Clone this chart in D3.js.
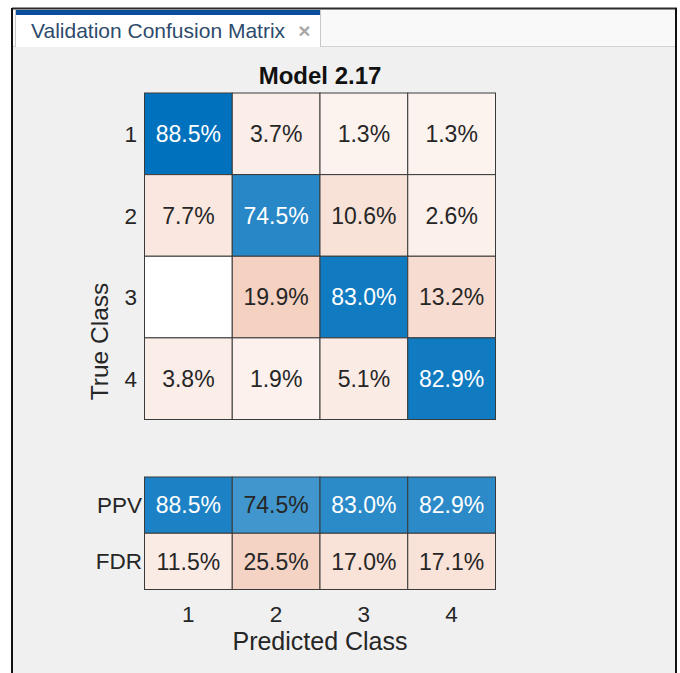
<!DOCTYPE html>
<html>
<head>
<meta charset="utf-8">
<script src="https://cdn.jsdelivr.net/npm/d3@7"></script>
<style>
  html, body { margin: 0; padding: 0; background: #ffffff; }
  svg { display: block; }
  text { font-family: "Liberation Sans", Arial, Helvetica, sans-serif; }
</style>
</head>
<body>
<svg id="chart" width="680" height="673"></svg>
<script>
// ---- data ----
const tabTitle = "Validation Confusion Matrix";
const chartTitle = "Model 2.17";
const classes = ["1", "2", "3", "4"];
const summaryRows = ["PPV", "FDR"];
const row1 = [88.5, 3.7, 1.3, 1.3];
const row2 = [7.7, 74.5, 10.6, 2.6];
const row3 = [0, 19.9, 83.0, 13.2];
const row4 = [3.8, 1.9, 5.1, 82.9];
const ppv = [88.5, 74.5, 83.0, 82.9];
const fdr = [11.5, 25.5, 17.0, 17.1];
const xLabel = "Predicted Class";
const yLabel = "True Class";

const matrix = [row1, row2, row3, row4];
const summary = [ppv, fdr];

const svg = d3.select("#chart");

// ---- window frame & tab ----
svg.append("rect").attr("x", 13).attr("y", 9).attr("width", 662).attr("height", 664).attr("fill", "#f0f0f0");
svg.append("rect").attr("x", 13).attr("y", 9).attr("width", 662).attr("height", 37).attr("fill", "#f9f9f9");
svg.append("line").attr("x1", 13).attr("x2", 675).attr("y1", 46.5).attr("y2", 46.5).attr("stroke", "#d4d4d4");
// tab
svg.append("rect").attr("x", 16).attr("y", 10).attr("width", 304).attr("height", 37).attr("fill", "#ffffff");
svg.append("line").attr("x1", 320.5).attr("x2", 320.5).attr("y1", 10).attr("y2", 47).attr("stroke", "#c8c8c8");
svg.append("line").attr("x1", 15.5).attr("x2", 15.5).attr("y1", 10).attr("y2", 47).attr("stroke", "#c8c8c8");
svg.append("rect").attr("x", 16).attr("y", 10).attr("width", 304).attr("height", 5).attr("fill", "#0b4e9d");
svg.append("text").attr("x", 31).attr("y", 38).attr("font-size", 21).attr("fill", "#2e4b6b").text(tabTitle);
svg.append("text").attr("x", 304.5).attr("y", 38).attr("text-anchor", "middle").attr("font-size", 21).attr("font-weight", "bold").attr("fill", "#a8a8a8").text("\u00d7");
// frame lines
svg.append("line").attr("x1", 12).attr("x2", 677).attr("y1", 8.5).attr("y2", 8.5).attr("stroke", "#2b2b2b").attr("stroke-width", 2);
svg.append("line").attr("x1", 12).attr("x2", 12).attr("y1", 8).attr("y2", 673).attr("stroke", "#111").attr("stroke-width", 2);
svg.append("line").attr("x1", 676).attr("x2", 676).attr("y1", 8).attr("y2", 673).attr("stroke", "#111").attr("stroke-width", 2);

// ---- scales ----
const x = d3.scaleBand().domain(classes).range([144.5, 495.5]);
const y = d3.scaleBand().domain(classes).range([93, 419.5]);
const ys = d3.scaleBand().domain(summaryRows).range([477, 589.5]);

const blue = d3.interpolateRgb("#ffffff", "#0072BD");
const orange = d3.interpolateRgb("#ffffff", "#D95319");
const alphaDiag = d3.scaleLinear().domain([0, 88.5]).range([0, 1]).clamp(true);
const alphaOff = d3.scaleLinear().domain([0, 20]).range([0.06, 0.27]);
const alphaSum = d3.scaleLinear().domain([0, 100]).range([0, 1]);

const fmt = v => v.toFixed(1) + "%";
const textCol = a => a > 0.8 ? "#ffffff" : "#262626";

// ---- main matrix ----
const cells = [];
matrix.forEach((row, i) => row.forEach((v, j) => {
  const diag = i === j;
  const a = v === 0 ? 0 : (diag ? alphaDiag(v) : alphaOff(v));
  cells.push({ r: classes[i], c: classes[j], v, diag, a,
    fill: v === 0 ? "#ffffff" : (diag ? blue(a) : orange(a)) });
}));

const g = svg.append("g");
g.selectAll("rect.cell").data(cells).enter().append("rect")
  .attr("class", "cell")
  .attr("x", d => x(d.c)).attr("y", d => y(d.r))
  .attr("width", x.bandwidth()).attr("height", y.bandwidth())
  .attr("fill", d => d.fill).attr("stroke", "#3a3a3a").attr("stroke-width", 1);
g.selectAll("text.cell").data(cells.filter(d => d.v !== 0)).enter().append("text")
  .attr("x", d => x(d.c) + x.bandwidth() / 2)
  .attr("y", d => y(d.r) + y.bandwidth() / 2)
  .attr("dy", "0.36em").attr("text-anchor", "middle")
  .attr("font-size", 23).attr("fill", d => textCol(d.a))
  .text(d => fmt(d.v));

// ---- summary rows ----
const scells = [];
summary.forEach((row, i) => row.forEach((v, j) => {
  const a = alphaSum(v);
  scells.push({ r: summaryRows[i], c: classes[j], v, a, fill: i === 0 ? blue(a) : orange(a) });
}));
g.selectAll("rect.scell").data(scells).enter().append("rect")
  .attr("class", "scell")
  .attr("x", d => x(d.c)).attr("y", d => ys(d.r))
  .attr("width", x.bandwidth()).attr("height", ys.bandwidth())
  .attr("fill", d => d.fill).attr("stroke", "#3a3a3a").attr("stroke-width", 1);
g.selectAll("text.scell").data(scells).enter().append("text")
  .attr("x", d => x(d.c) + x.bandwidth() / 2)
  .attr("y", d => ys(d.r) + ys.bandwidth() / 2)
  .attr("dy", "0.36em").attr("text-anchor", "middle")
  .attr("font-size", 23).attr("fill", d => textCol(d.a))
  .text(d => fmt(d.v));

// ---- axes labels ----
const tickCol = "#262626";
g.selectAll("text.ytick").data(classes).enter().append("text")
  .attr("x", 137).attr("y", d => y(d) + y.bandwidth() / 2).attr("dy", "0.36em")
  .attr("text-anchor", "end").attr("font-size", 22.5).attr("fill", tickCol).text(d => d);
g.selectAll("text.stick").data(summaryRows).enter().append("text")
  .attr("x", 142).attr("y", d => ys(d) + ys.bandwidth() / 2).attr("dy", "0.36em")
  .attr("text-anchor", "end").attr("font-size", 22.5).attr("fill", tickCol).text(d => d);
g.selectAll("text.xtick").data(classes).enter().append("text")
  .attr("x", d => x(d) + x.bandwidth() / 2).attr("y", 622)
  .attr("text-anchor", "middle").attr("font-size", 22.5).attr("fill", tickCol).text(d => d);

svg.append("text").attr("x", 320).attr("y", 650).attr("text-anchor", "middle")
  .attr("font-size", 25).attr("fill", tickCol).text(xLabel);
svg.append("text").attr("transform", "translate(108,341.5) rotate(-90)").attr("text-anchor", "middle")
  .attr("font-size", 24.5).attr("fill", tickCol).text(yLabel);
svg.append("text").attr("x", 320).attr("y", 84).attr("text-anchor", "middle")
  .attr("font-size", 24).attr("font-weight", "bold").attr("fill", "#111111").text(chartTitle);
</script>
</body>
</html>
